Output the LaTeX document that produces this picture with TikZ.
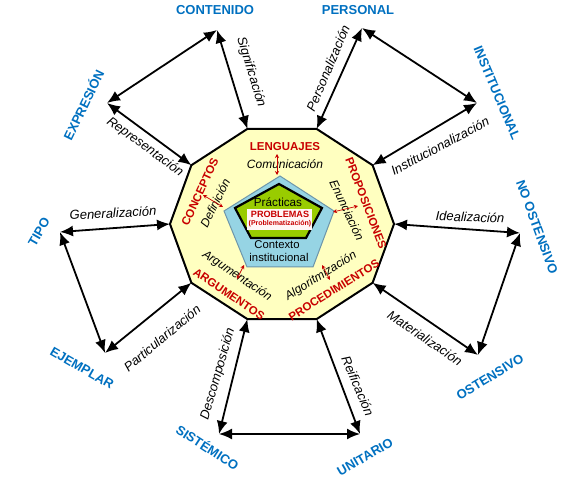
\documentclass[tikz,border=0pt]{standalone}
\usepackage{fontspec}
\setmainfont{Liberation Sans}
\usetikzlibrary{arrows.meta}
\definecolor{lblblue}{RGB}{0,112,192}
\definecolor{lblred}{RGB}{200,0,0}
\definecolor{decafill}{RGB}{255,255,192}
\definecolor{pentblue}{RGB}{150,212,228}
\definecolor{pentedge}{RGB}{110,150,170}
\definecolor{pentgreen}{RGB}{153,204,0}
\definecolor{probfill}{RGB}{255,246,246}
\begin{document}
\begin{tikzpicture}[x=1pt,y=-1pt,
  big/.style={line width=1.8pt, {Latex[length=13pt,width=11pt]}-{Latex[length=13pt,width=11pt]}},
  small/.style={draw=lblred, line width=0.7pt, {Stealth[length=4pt,width=4pt]}-{Stealth[length=4pt,width=4pt]}},
  pole/.style={font=\bfseries\fontsize{13}{15}\selectfont, text=lblblue, inner sep=0pt},
  proc/.style={font=\itshape\fontsize{13}{15}\selectfont, inner sep=0pt},
  obj/.style={font=\bfseries\fontsize{11.5}{13}\selectfont, text=lblred, inner sep=0pt},
  inproc/.style={font=\itshape\fontsize{12}{14}\selectfont, inner sep=0pt},
  plain/.style={font=\fontsize{11.3}{13}\selectfont, inner sep=0pt},
]
\useasboundingbox (0,0) rectangle (568,478);

% decagon
\foreach \i in {0,...,9} \coordinate (v\i) at ({282+112*cos(36*\i)},{224-100*sin(36*\i)});
\draw[line width=2pt, fill=decafill, line join=miter]
  (v0) -- (v1) -- (v2) -- (v3) -- (v4) -- (v5) -- (v6) -- (v7) -- (v8) -- (v9) -- cycle;

% outer corners
\coordinate (cont) at (217,30);
\coordinate (expr) at (107,103);
\coordinate (pers) at (362,28);
\coordinate (inst) at (477,103);
\coordinate (tipo) at (60,232);
\coordinate (ejem) at (105,353);
\coordinate (noost) at (520,233);
\coordinate (ost) at (478,355);
\coordinate (sist) at (219,434);
\coordinate (unit) at (360,434);

% arrows
\draw[big] (expr) -- (cont);
\draw[big] (cont) -- (v3);
\draw[big] (expr) -- (v4);
\draw[big] (pers) -- (inst);
\draw[big] (pers) -- (v2);
\draw[big] (inst) -- (v1);
\draw[big] (tipo) -- (ejem);
\draw[big] (tipo) -- (v5);
\draw[big] (ejem) -- (v6);
\draw[big] (noost) -- (ost);
\draw[big] (noost) -- (v0);
\draw[big] (ost) -- (v9);
\draw[big] (sist) -- (unit);
\draw[big] (sist) -- (v7);
\draw[big] (unit) -- (v8);

% pole labels
\node[pole] (lcont) at (215,10) {CONTENIDO};
\node[pole] (lpers) at (358,10) {PERSONAL};
\node[pole, rotate=64] (lexpr) at (83,105) {EXPRESIÓN};
\node[pole, rotate=-67] (linst) at (497,93) {INSTITUCIONAL};
\node[pole, rotate=60] (ltipo) at (39,232) {TIPO};
\node[pole, rotate=-30] (lejem) at (82,368) {EJEMPLAR};
\node[pole, rotate=-70] (lnoost) at (537,227) {NO OSTENSIVO};
\node[pole, rotate=31] (lost) at (490,377) {OSTENSIVO};
\node[pole, rotate=-33] (lsist) at (208,447) {SISTÉMICO};
\node[pole, rotate=30] (lunit) at (365,457) {UNITARIO};

% process labels
\node[proc, rotate=-73] (psig) at (251,72) {Significación};
\node[proc, rotate=-36] (prep) at (145,147) {Representación};
\node[proc, rotate=67] (ppers) at (328,68) {Personalización};
\node[proc, rotate=28] (pinst) at (440,146) {Institucionalización};
\node[proc, rotate=3] (pgen) at (113,213) {Generalización};
\node[proc, rotate=40] (ppart) at (162,338) {Particularización};
\node[proc, rotate=-2] (pideal) at (470,217) {Idealización};
\node[proc, rotate=-34] (pmat) at (425,338) {Materialización};
\node[proc, rotate=74] (pdesc) at (218,374) {Descomposición};
\node[proc, rotate=-67] (preif) at (358,386) {Reificación};

% pentagons
\draw[draw=pentedge, line width=1pt, fill=pentblue, line join=miter]
  (280,176) -- (334,211) -- (313,267) -- (247,267) -- (224,211) -- cycle;
\draw[line width=2.2pt, fill=pentgreen, line join=miter]
  (279,184) -- (322,208) -- (306,238) -- (251,238) -- (235,208) -- cycle;
\fill[probfill] (247,209) rectangle (312,230);

\node[font=\fontsize{11.7}{13}\selectfont, inner sep=0pt] (prac) at (278,202) {Prácticas};
\node[font=\bfseries\fontsize{9.1}{10}\selectfont, text=lblred, inner sep=0pt] (prob) at (280,214.5) {PROBLEMAS};
\node[font=\bfseries\fontsize{7}{8}\selectfont, text=lblred, inner sep=0pt] (probz) at (280,224) {(Problematización)};
\node[plain] (ctx1) at (277,245) {Contexto};
\node[plain] (ctx2) at (279,257.5) {institucional};

% inner object labels
\node[obj] (leng) at (285,147) {LENGUAJES};
\node[inproc] (com) at (285,164) {Comunicación};
\node[obj, rotate=65] (conc) at (200,192) {CONCEPTOS};
\node[inproc, rotate=64] (defi) at (215,203) {Definición};
\node[obj, rotate=-69] (prop) at (366,203) {PROPOSICIONES};
\node[inproc, rotate=-65] (enun) at (347,210) {Enunciación};
\node[obj, rotate=-34] (argu) at (229,294) {ARGUMENTOS};
\node[inproc, rotate=-34] (argn) at (237,276) {Argumentación};
\node[obj, rotate=32] (proced) at (334,290) {PROCEDIMIENTOS};
\node[inproc, rotate=32] (algo) at (321,276) {Algoritmización};

% small red arrows
\coordinate (a1) at (277,154); \coordinate (b1) at (277,175);
\coordinate (a2) at (203,195); \coordinate (b2) at (223,207);
\coordinate (a3) at (333,212); \coordinate (b3) at (358,206);
\coordinate (a4) at (244,265); \coordinate (b4) at (237,279);
\coordinate (a5) at (322,265); \coordinate (b5) at (330,280);
\draw[small] (a1) -- (b1);
\draw[small] (a2) -- (b2);
\draw[small] (a3) -- (b3);
\draw[small] (a4) -- (b4);
\draw[small] (a5) -- (b5);
\end{tikzpicture}
\end{document}
